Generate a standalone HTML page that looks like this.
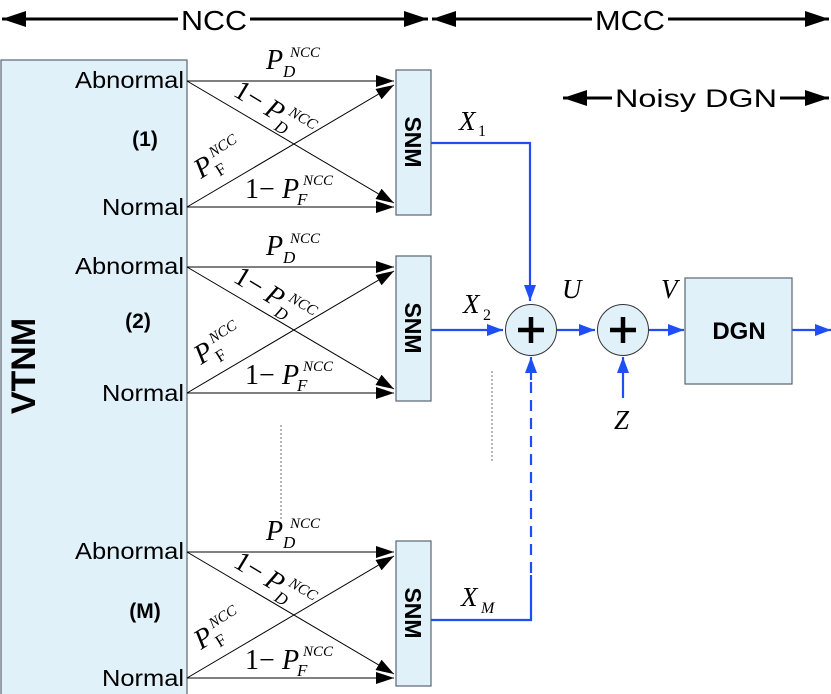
<!DOCTYPE html>
<html><head><meta charset="utf-8"><style>
html,body{margin:0;padding:0;background:#fff}
svg{display:block}
.s{font-family:"Liberation Sans",sans-serif}
.m{font-family:"Liberation Serif",serif;font-style:italic}
.r{font-family:"Liberation Serif",serif}
</style></head><body>
<svg width="831" height="694" viewBox="0 0 831 694" xmlns="http://www.w3.org/2000/svg">
<defs>
<marker id="ab" markerWidth="16" markerHeight="12" refX="16" refY="6" orient="auto" markerUnits="userSpaceOnUse"><path d="M0,0 L16,6 L0,12 Z" fill="#1f4ef5"/></marker>
<marker id="ah" markerWidth="24" markerHeight="16" refX="24" refY="8" orient="auto" markerUnits="userSpaceOnUse"><path d="M0,0 L24,8 L0,16 Z" fill="#000"/></marker>
<marker id="as" markerWidth="18" markerHeight="12" refX="18" refY="6" orient="auto" markerUnits="userSpaceOnUse"><path d="M0,0 L18,6 L0,12 Z" fill="#000"/></marker>
<marker id="hs" markerWidth="24" markerHeight="16" refX="0" refY="8" orient="auto" markerUnits="userSpaceOnUse"><path d="M24,0 L0,8 L24,16 Z" fill="#000"/></marker>
<g id="grp">
  <line x1="187" y1="0" x2="394" y2="0" stroke="#000" stroke-width="1" marker-end="url(#as)"/>
  <line x1="187" y1="126" x2="394" y2="126" stroke="#000" stroke-width="1" marker-end="url(#as)"/>
  <line x1="187" y1="0" x2="394" y2="122" stroke="#000" stroke-width="1" marker-end="url(#as)"/>
  <line x1="187" y1="126" x2="394" y2="4" stroke="#000" stroke-width="1" marker-end="url(#as)"/>
  <text x="75" y="7" class="s" font-size="23" textLength="109" lengthAdjust="spacingAndGlyphs">Abnormal</text>
  <text x="102" y="134" class="s" font-size="23" textLength="82" lengthAdjust="spacingAndGlyphs">Normal</text>
  <text x="266" y="-12" class="m" font-size="28">P</text>
  <text x="283" y="-4" class="m" font-size="17">D</text>
  <text x="290" y="-24" class="m" font-size="15">NCC</text>
  <g transform="translate(232,14) rotate(31)">
    <text x="0" y="0" class="r" font-size="28">1−</text>
    <text x="36" y="0" class="m" font-size="28">P</text>
    <text x="53" y="8" class="m" font-size="17">D</text>
    <text x="58" y="-12" class="m" font-size="15">NCC</text>
  </g>
  <g transform="translate(201,98) rotate(-32)">
    <text x="0" y="0" class="m" font-size="28">P</text>
    <text x="17" y="8" class="r" font-size="17">F</text>
    <text x="21" y="-12" class="m" font-size="15">NCC</text>
  </g>
  <text x="245" y="117" class="r" font-size="28">1−</text>
  <text x="282" y="117" class="m" font-size="28">P</text>
  <text x="297" y="124" class="m" font-size="17">F</text>
  <text x="303" y="104" class="m" font-size="15">NCC</text>
  <rect x="396" y="-11" width="35" height="145" fill="#e1f1fa" stroke="#5a6470" stroke-width="1.2"/>
  <text transform="translate(405,61) rotate(90)" text-anchor="middle" class="s" font-size="23" font-weight="bold">SNM</text>
</g>
</defs>
<line x1="2" y1="19" x2="428" y2="19" stroke="#000" stroke-width="3" marker-start="url(#hs)" marker-end="url(#ah)"/>
<line x1="432" y1="19" x2="829" y2="19" stroke="#000" stroke-width="3" marker-start="url(#hs)" marker-end="url(#ah)"/>
<rect x="178" y="4" width="72" height="30" fill="#fff"/>
<rect x="592" y="4" width="76" height="30" fill="#fff"/>
<text x="214" y="30" text-anchor="middle" class="s" font-size="28" textLength="66" lengthAdjust="spacingAndGlyphs">NCC</text>
<text x="630" y="30" text-anchor="middle" class="s" font-size="28" textLength="70" lengthAdjust="spacingAndGlyphs">MCC</text>
<line x1="563" y1="98" x2="829" y2="98" stroke="#000" stroke-width="3" marker-start="url(#hs)" marker-end="url(#ah)"/>
<rect x="612" y="84" width="168" height="28" fill="#fff"/>
<text x="696" y="107" text-anchor="middle" class="s" font-size="25" textLength="162" lengthAdjust="spacingAndGlyphs">Noisy DGN</text>
<rect x="1" y="60" width="186" height="640" fill="#e1f1fa" stroke="#5a6470" stroke-width="1.2"/>
<text transform="translate(35,366) rotate(-90)" text-anchor="middle" class="s" font-size="34" font-weight="bold">VTNM</text>
<text x="145" y="146" text-anchor="middle" class="s" font-size="21" font-weight="bold">(1)</text>
<text x="138" y="328" text-anchor="middle" class="s" font-size="21" font-weight="bold">(2)</text>
<text x="145" y="618" text-anchor="middle" class="s" font-size="21" font-weight="bold">(M)</text>
<use href="#grp" transform="translate(0,81)"/>
<use href="#grp" transform="translate(0,267)"/>
<use href="#grp" transform="translate(0,552)"/>
<line x1="281" y1="425" x2="281" y2="520" stroke="#888" stroke-width="1.2" stroke-dasharray="2,2"/>
<line x1="492" y1="371" x2="492" y2="463" stroke="#888" stroke-width="1.2" stroke-dasharray="2,2"/>
<polyline points="431,143 530,143 530,301" fill="none" stroke="#1f4ef5" stroke-width="2.2" marker-end="url(#ab)"/>
<line x1="431" y1="330" x2="503" y2="330" stroke="#1f4ef5" stroke-width="2.2" marker-end="url(#ab)"/>
<polyline points="431,620 531,620 531,575" fill="none" stroke="#1f4ef5" stroke-width="2.2"/>
<line x1="531" y1="573" x2="531" y2="380" stroke="#1f4ef5" stroke-width="2.2" stroke-dasharray="11,7"/>
<line x1="531" y1="380" x2="531" y2="357" stroke="#1f4ef5" stroke-width="2.2" marker-end="url(#ab)"/>
<line x1="557" y1="330" x2="595" y2="330" stroke="#1f4ef5" stroke-width="2.2" marker-end="url(#ab)"/>
<line x1="649" y1="330" x2="684" y2="330" stroke="#1f4ef5" stroke-width="2.2" marker-end="url(#ab)"/>
<line x1="623" y1="398" x2="623" y2="357" stroke="#1f4ef5" stroke-width="2.2" marker-end="url(#ab)"/>
<line x1="792" y1="330" x2="831" y2="330" stroke="#1f4ef5" stroke-width="2.2" marker-end="url(#ab)"/>
<circle cx="531" cy="330" r="25.5" fill="#e1f1fa" stroke="#333" stroke-width="1"/>
<circle cx="623" cy="330" r="25.5" fill="#e1f1fa" stroke="#333" stroke-width="1"/>
<path d="M518,330 H544 M531,317 V343" stroke="#000" stroke-width="4.5"/>
<path d="M610,330 H636 M623,317 V343" stroke="#000" stroke-width="4.5"/>
<rect x="685" y="278" width="107" height="106" fill="#e1f1fa" stroke="#5a6470" stroke-width="1.2"/>
<text x="739" y="339" text-anchor="middle" class="s" font-size="24" font-weight="bold">DGN</text>
<text x="459" y="130" class="m" font-size="27">X</text><text x="478" y="136" class="r" font-size="16">1</text>
<text x="463" y="313" class="m" font-size="27">X</text><text x="483" y="320" class="r" font-size="16">2</text>
<text x="461" y="606" class="m" font-size="27">X</text><text x="481" y="613" class="m" font-size="16">M</text>
<text x="562" y="298" class="m" font-size="27">U</text>
<text x="661" y="298" class="m" font-size="27">V</text>
<text x="614" y="429" class="m" font-size="27">Z</text>
</svg>
</body></html>
